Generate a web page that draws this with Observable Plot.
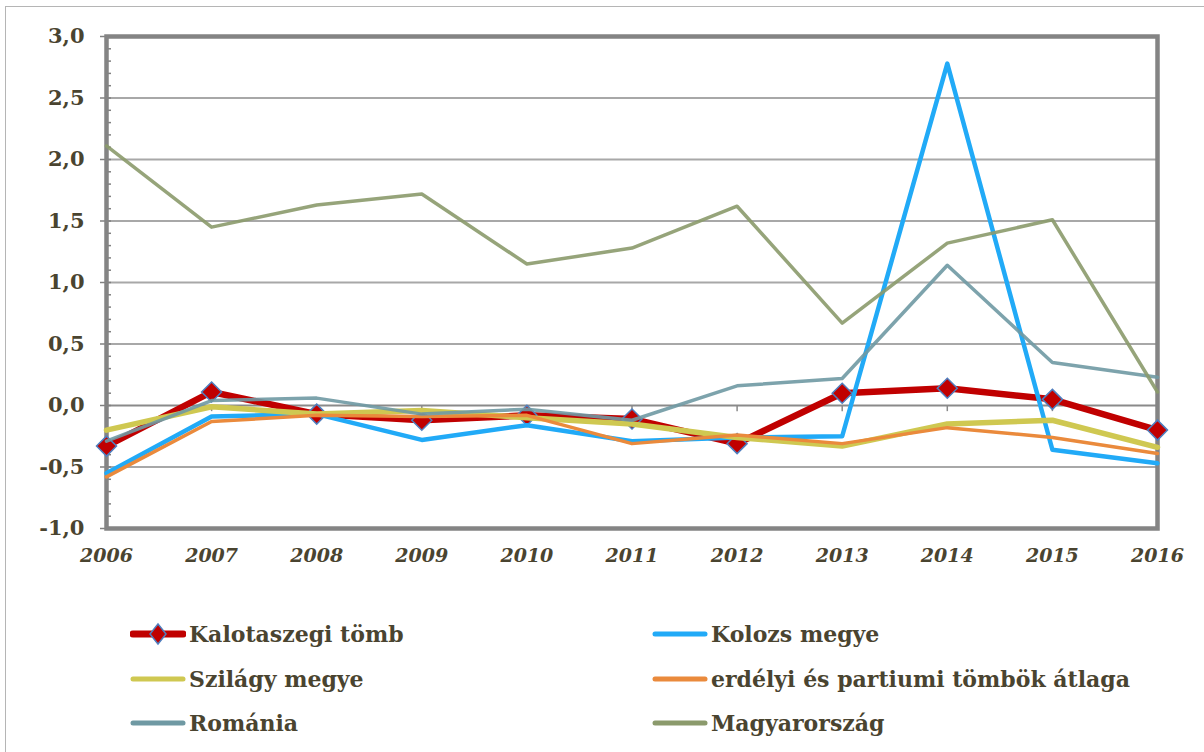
<!DOCTYPE html>
<html><head><meta charset="utf-8">
<script src="https://cdn.jsdelivr.net/npm/d3@7"></script>
<script src="https://cdn.jsdelivr.net/npm/@observablehq/plot@0.6"></script>
<style>
body{margin:0;background:#fff;}
#wrap{position:relative;width:1204px;height:752px;overflow:hidden;font-family:"DejaVu Serif",serif;color:#4a4430;}
#border{position:absolute;left:5px;top:6px;width:1210px;height:780px;border:1px solid #b5b5b5;}
#chart{position:absolute;left:0;top:0;}
#chart svg text{font-family:"DejaVu Serif",serif;}
.leg{position:absolute;font-weight:bold;font-size:22px;display:flex;align-items:center;white-space:nowrap;}
.leg svg{margin-right:3px;}
</style></head>
<body><div id="wrap"><div id="border"></div><div id="chart"></div><div id="legend"></div></div>
<script>
const years = [2006, 2007, 2008, 2009, 2010, 2011, 2012, 2013, 2014, 2015, 2016];
const kalotaszegi = [-0.33, 0.11, -0.07, -0.12, -0.08, -0.11, -0.31, 0.10, 0.14, 0.05, -0.20];
const kolozs      = [-0.55, -0.09, -0.07, -0.28, -0.16, -0.29, -0.26, -0.25, 2.78, -0.36, -0.47];
const szilagy     = [-0.20, -0.01, -0.07, -0.04, -0.10, -0.15, -0.26, -0.33, -0.15, -0.12, -0.34];
const erdelyi     = [-0.58, -0.13, -0.08, -0.09, -0.08, -0.31, -0.24, -0.31, -0.18, -0.26, -0.39];
const romania     = [-0.29, 0.04, 0.06, -0.07, -0.03, -0.12, 0.16, 0.22, 1.14, 0.35, 0.23];
const magyar      = [2.11, 1.45, 1.63, 1.72, 1.15, 1.28, 1.62, 0.67, 1.32, 1.51, 0.11];
const seriesNames = ["Kalotaszegi tömb", "Kolozs megye", "Szilágy megye", "erdélyi és partiumi tömbök átlaga", "Románia", "Magyarország"];
const seriesValues = [kalotaszegi, kolozs, szilagy, erdelyi, romania, magyar];
const seriesColors = ["#c00000", "#21aaf7", "#cfc851", "#ea8a3c", "#6f99a3", "#8b9a6c"];
const seriesWidths = [6.5, 4.5, 5.5, 3.5, 3.5, 3.5];
const seriesOpacity = [1, 1, 1, 1, 0.9, 0.9];
const yTicks = [-1, -0.5, 0, 0.5, 1, 1.5, 2, 2.5, 3];
const gridTicks = [-0.5, 0.5, 1, 1.5, 2, 2.5];
const minorTicks = d3.range(-10, 31).map(d => d / 10);

const textColor = "#4a4430";
const fmt = d => d.toFixed(1).replace(".", ",");

const marks = [
  Plot.ruleY(gridTicks, {stroke: "#a8a8a8", strokeWidth: 2}),
  Plot.ruleY([0], {stroke: "#8a8a8a", strokeWidth: 2}),
  Plot.ruleX(years.slice(1, -1), {x: d => d, y1: 0, y2: -0.05, stroke: "#8a8a8a", strokeWidth: 1.5}),
  Plot.axisY(minorTicks, {tickSize: -5, tickFormat: () => "", label: null, stroke: "#808080", strokeWidth: 1.5}),
  Plot.axisY(yTicks, {tickSize: 6, tickPadding: 16, tickFormat: fmt, label: null, stroke: "#808080", strokeWidth: 1.5,
    fill: textColor, fontSize: 21, fontWeight: "bold", fontFamily: "DejaVu Serif"}),
  Plot.axisX(years, {tickSize: 0, tickPadding: 20, tickFormat: d => String(d), label: null,
    fill: textColor, fontSize: 19, fontWeight: "bold", fontStyle: "italic", fontFamily: "DejaVu Serif"}),
  Plot.frame({stroke: "#848484", strokeWidth: 4.5})
];
seriesNames.forEach((name, i) => {
  const rows = years.map((y, j) => ({year: y, value: seriesValues[i][j]}));
  marks.push(Plot.line(rows, {x: "year", y: "value", stroke: seriesColors[i], strokeWidth: seriesWidths[i], strokeOpacity: seriesOpacity[i]}));
  if (i === 0) {
    marks.push(Plot.dot(rows, {x: "year", y: "value", symbol: "diamond2", r: 9, fill: "#c00000", stroke: "#4f7fbf", strokeWidth: 1.5}));
  }
});

const chart = Plot.plot({
  width: 1204, height: 590,
  marginLeft: 106, marginRight: 47, marginTop: 36, marginBottom: 62,
  x: {domain: [2006, 2016], axis: null, label: null},
  y: {domain: [-1, 3], axis: null, label: null},
  style: {background: "transparent", overflow: "visible"},
  marks
});
document.getElementById("chart").appendChild(chart);

const legend = document.getElementById("legend");
const pos = [[130, 634], [652, 634], [130, 679], [652, 679], [130, 723], [652, 723]];
seriesNames.forEach((name, i) => {
  const div = document.createElement("div");
  div.className = "leg";
  div.style.left = pos[i][0] + "px";
  div.style.top = (pos[i][1] - 17) + "px";
  const ns = "http://www.w3.org/2000/svg";
  const s = document.createElementNS(ns, "svg");
  s.setAttribute("width", 56); s.setAttribute("height", 34);
  const l = document.createElementNS(ns, "line");
  l.setAttribute("x1", 3); l.setAttribute("x2", 53); l.setAttribute("y1", 17); l.setAttribute("y2", 17);
  l.setAttribute("stroke", seriesColors[i]); l.setAttribute("stroke-width", i === 0 ? 7 : 5);
  l.setAttribute("stroke-linecap", "round");
  s.appendChild(l);
  if (i === 0) {
    const p = document.createElementNS(ns, "path");
    p.setAttribute("d", "M28,7 L36,17 L28,27 L20,17 Z");
    p.setAttribute("fill", "#c00000"); p.setAttribute("stroke", "#4f7fbf"); p.setAttribute("stroke-width", 1.5);
    s.appendChild(p);
  }
  div.appendChild(s);
  const t = document.createElement("span");
  t.textContent = name;
  div.appendChild(t);
  legend.appendChild(div);
});
</script></body></html>
